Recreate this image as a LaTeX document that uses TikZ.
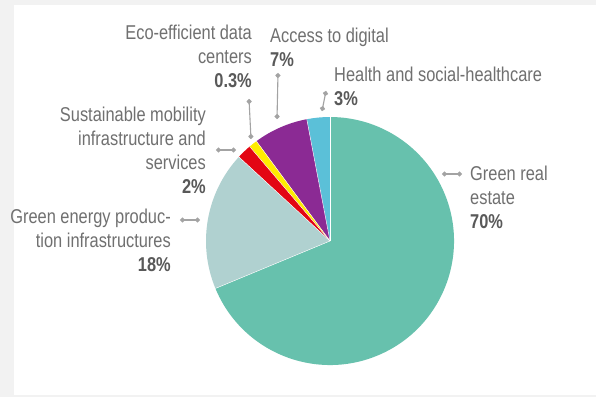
\documentclass[tikz,border=0pt]{standalone}
\usepackage{fontspec}
\setmainfont{Liberation Sans}[FakeStretch=0.82]
\usetikzlibrary{arrows.meta}
\definecolor{pagegray}{HTML}{F2F2F2}
\definecolor{txtgray}{HTML}{707070}
\definecolor{pctgray}{HTML}{595959}
\definecolor{leadgray}{HTML}{A3A3A3}
\definecolor{realestate}{HTML}{67C1AD}
\definecolor{energy}{HTML}{B0D1D0}
\definecolor{mobility}{HTML}{E30613}
\definecolor{datacenter}{HTML}{FFED00}
\definecolor{digital}{HTML}{8B2A94}
\definecolor{health}{HTML}{5BC0D8}
\tikzset{
  lbl/.style={font=\fontsize{20}{24}\selectfont, text=txtgray, inner sep=0pt},
  leader/.style={draw=leadgray, line width=1.1pt, {Circle[length=5pt]}-{Circle[length=5pt]}}
}
\newcommand{\pct}[1]{\textcolor{pctgray}{\bfseries #1}}

\begin{document}
\begin{tikzpicture}[x=1pt,y=1pt]
% page and panel
\fill[pagegray] (0,0) rectangle (596,-397);
\fill[white] (14,-5) rectangle (596,-395);
% the pie
\coordinate (c) at (330,-241);
\foreach \a/\b/\col in {-157.5/90/realestate, 90/100.8/health, 100.8/126.4/digital,
                        126.4/130.4/datacenter, 130.4/137.3/mobility, 137.3/202.5/energy}
  \fill[\col] (c) -- ++(\a:124) arc[start angle=\a, end angle=\b, radius=124] -- cycle;
\foreach \a in {90,100.8,126.4,130.4,137.3,202.5}
  \draw[white, line width=0.4pt] (c) -- ++(\a:124);
% the labels
\node[lbl, anchor=north east, align=right] (eco) at (252,-25)
  {Eco-efficient data\\centers\\\pct{0.3\%}};
\node[lbl, anchor=north west, align=left] (dig) at (270,-28)
  {Access to digital\\\pct{7\%}};
\node[lbl, anchor=north west, align=left] (hea) at (334,-67)
  {Health and social-healthcare\\\pct{3\%}};
\node[lbl, anchor=north west, align=left] (res) at (470,-166)
  {Green real\\estate\\\pct{70\%}};
\node[lbl, anchor=north east, align=right] (mob) at (206,-107)
  {Sustainable mobility\\infrastructure and\\services\\\pct{2\%}};
\node[lbl, anchor=north east, align=right] (ene) at (171,-209)
  {Green energy produc-\\tion infrastructures\\\pct{18\%}};
% leader ends
\coordinate (eco1) at (249,-99);  \coordinate (eco2) at (251,-139);
\coordinate (dig1) at (278,-73);  \coordinate (dig2) at (277,-119);
\coordinate (hea1) at (326,-91);  \coordinate (hea2) at (322,-111);
\coordinate (res1) at (442,-174); \coordinate (res2) at (462,-174);
\coordinate (mob1) at (216,-150); \coordinate (mob2) at (236,-150);
\coordinate (ene1) at (180,-220); \coordinate (ene2) at (200,-220);
\foreach \n in {eco,dig,hea,res,mob,ene}
  \draw[leader] (\n1) -- (\n2);
\end{tikzpicture}
\end{document}
